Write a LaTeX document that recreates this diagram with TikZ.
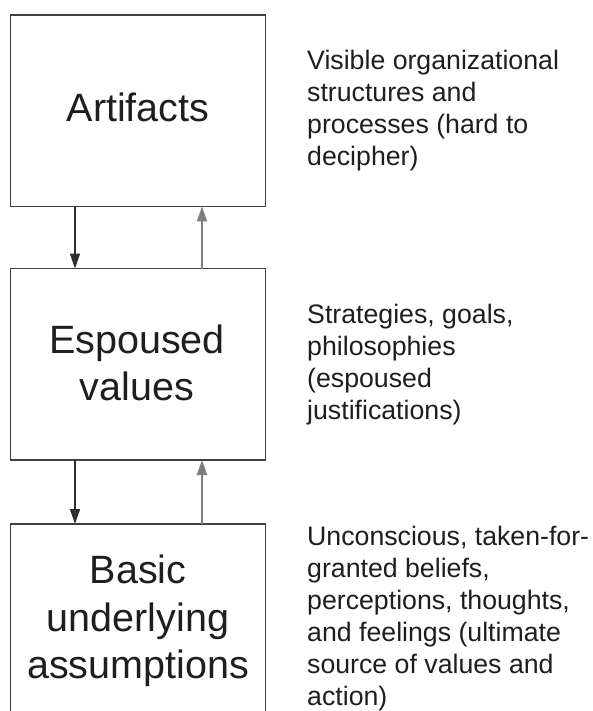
\documentclass[tikz,border=0pt]{standalone}
\usepackage{fontspec}
\setmainfont{Liberation Sans}
\usetikzlibrary{arrows.meta}
\definecolor{inkgray}{HTML}{1E1E1E}
\definecolor{boxline}{HTML}{404040}
\definecolor{downline}{HTML}{2E2E2E}
\definecolor{upline}{HTML}{7E7E7E}
\tikzset{
  levelbox/.style={draw=boxline, line width=1.5pt, minimum width=255pt,
    minimum height=191.5pt, inner sep=0pt, outer sep=0pt},
  levelname/.style={text=inkgray, align=center, inner sep=0pt,
    font=\fontsize{39.5}{47.5}\selectfont},
  levelnote/.style={text=inkgray, align=left, inner sep=0pt, anchor=north west,
    font=\fontsize{26.7}{32}\selectfont},
  downarrow/.style={draw=downline, line width=1.5pt,
    -{Triangle[length=15pt,width=10pt]}},
  uparrow/.style={draw=upline, line width=2pt,
    -{Triangle[length=15pt,width=10pt]}}
}
\begin{document}
\begin{tikzpicture}[x=1pt,y=-1pt]
\useasboundingbox (0,0) rectangle (592,711);
\clip (0,0) rectangle (592,711);
\fill[white] (0,0) rectangle (592,711);

% the three levels
\node[levelbox] (art) at (138,110.75) {};
\node[levelbox] (esp) at (138,364.25) {};
\node[levelbox] (bas) at (138,619.75) {};

\node[levelname, anchor=base] (artname) at (138,122) {Artifacts};
\node[levelname, anchor=north] (espname) at (137,324.4) {Espoused\\values};
\node[levelname, anchor=north] (basname) at (138,555) {Basic\\underlying\\assumptions};

% descriptions
\node[levelnote] (artnote) at (307,49.5)
  {Visible organizational\\structures and\\processes (hard to\\decipher)};
\node[levelnote] (espnote) at (307,304)
  {Strategies, goals,\\philosophies\\(espoused\\justifications)};
\node[levelnote] (basnote) at (307,526)
  {Unconscious, taken-for-\\granted beliefs,\\perceptions, thoughts,\\and feelings (ultimate\\source of values and\\action)};

% links between levels
\draw[downarrow] ([xshift=-63pt]art.south) -- ([xshift=-63pt]esp.north);
\draw[uparrow]   ([xshift=64pt]esp.north) -- ([xshift=64pt]art.south);
\draw[downarrow] ([xshift=-63pt]esp.south) -- ([xshift=-63pt]bas.north);
\draw[uparrow]   ([xshift=64pt]bas.north) -- ([xshift=64pt]esp.south);
\end{tikzpicture}
\end{document}
